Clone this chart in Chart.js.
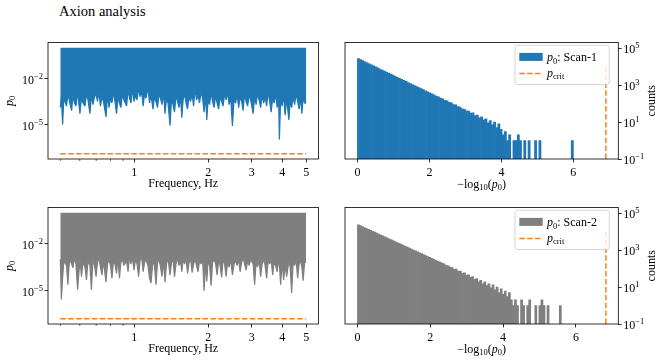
<!DOCTYPE html>
<html>
<head>
<meta charset="utf-8">
<title>Axion analysis</title>
<script src="https://cdn.jsdelivr.net/npm/chart.js@4.4.1/dist/chart.umd.min.js"></script>
<style>
	html, body { margin: 0; padding: 0; background: #fff; }
	#fig { position: relative; width: 664px; height: 362px; overflow: hidden; }
	#fig canvas { position: absolute; }
	#title { position: absolute; left: 59px; top: 4px; font: 14.5px/14px 'Liberation Serif', serif; color: #000; }
</style>
</head>
<body>
<div id="fig">
	<div id="title">Axion analysis</div>
	<canvas id="freq1" width="332" height="167" style="left:0;top:30px"></canvas>
	<canvas id="hist1" width="332" height="167" style="left:332px;top:30px"></canvas>
	<canvas id="freq2" width="332" height="167" style="left:0;top:195px"></canvas>
	<canvas id="hist2" width="332" height="167" style="left:332px;top:195px"></canvas>
</div>
<script>

// frequency grid of the scans (Hz)
const freqHz = [
	0.500, 0.505, 0.511, 0.517, 0.530, 0.537, 0.545, 0.556, 0.563, 0.571,
	0.579, 0.588, 0.601, 0.610, 0.618, 0.630, 0.639, 0.648, 0.660, 0.669,
	0.679, 0.689, 0.699, 0.708, 0.718, 0.728, 0.739, 0.749, 0.767, 0.778,
	0.789, 0.800, 0.811, 0.823, 0.834, 0.847, 0.858, 0.870, 0.882, 0.895,
	0.907, 0.930, 0.943, 0.957, 0.969, 0.983, 0.997, 1.011, 1.026, 1.041,
	1.055, 1.070, 1.086, 1.101, 1.115, 1.136, 1.153, 1.169, 1.191, 1.208,
	1.225, 1.243, 1.260, 1.278, 1.296, 1.314, 1.333, 1.352, 1.371, 1.397,
	1.417, 1.437, 1.457, 1.478, 1.499, 1.520, 1.542, 1.560, 1.579, 1.601,
	1.623, 1.646, 1.669, 1.694, 1.718, 1.742, 1.766, 1.791, 1.816, 1.842,
	1.868, 1.895, 1.922, 1.949, 1.971, 1.995, 2.024, 2.052, 2.081, 2.111,
	2.141, 2.171, 2.202, 2.233, 2.265, 2.296, 2.329, 2.362, 2.395, 2.429,
	2.464, 2.506, 2.546, 2.582, 2.619, 2.656, 2.693, 2.731, 2.769, 2.809,
	2.849, 2.889, 2.930, 2.972, 3.042, 3.085, 3.128, 3.172, 3.217, 3.263,
	3.310, 3.357, 3.404, 3.452, 3.501, 3.551, 3.601, 3.652, 3.703, 3.756,
	3.809, 3.863, 3.890, 3.935, 3.991, 4.048, 4.105, 4.163, 4.252, 4.302,
	4.363, 4.424, 4.487, 4.550, 4.615, 4.680, 4.746, 4.800, 4.858, 4.928,
	5.000
];

// log10(p0), lower envelope of each scan
const scan1LogP0 = [
	-3.9, -3.2, -5.0, -3.3, -3.8, -3.0, -3.5, -4.1, -3.1, -3.6,
	-3.8, -2.9, -4.3, -3.2, -3.6, -3.8, -3.0, -3.4, -4.3, -3.1,
	-3.7, -3.2, -3.0, -3.5, -2.9, -3.8, -3.2, -3.5, -4.5, -3.1,
	-3.9, -3.3, -3.6, -2.9, -3.5, -4.3, -3.2, -3.6, -3.9, -3.0,
	-3.4, -3.8, -2.8, -3.3, -3.6, -2.7, -3.5, -3.1, -3.4, -2.6,
	-3.2, -2.8, -3.8, -3.0, -3.3, -2.6, -3.6, -3.1, -4.0, -3.2,
	-3.5, -3.9, -3.0, -3.3, -3.7, -2.9, -4.3, -3.3, -3.6, -5.07,
	-3.4, -3.7, -4.2, -3.1, -3.5, -3.9, -3.2, -4.56, -3.4, -3.0,
	-3.6, -4.0, -3.2, -3.5, -3.0, -3.8, -2.7, -3.4, -3.1, -3.6,
	-2.9, -3.3, -4.2, -3.1, -4.7, -3.4, -3.7, -2.9, -3.5, -3.9,
	-3.1, -3.6, -4.0, -3.2, -3.5, -3.8, -3.0, -3.4, -2.9, -3.7,
	-3.2, -5.1, -3.3, -3.6, -3.0, -3.9, -3.2, -3.5, -4.1, -3.0,
	-3.5, -3.8, -3.1, -3.4, -4.3, -3.2, -3.7, -3.0, -3.4, -3.9,
	-3.1, -3.6, -3.2, -3.8, -2.9, -3.5, -4.2, -3.3, -3.6, -3.0,
	-3.9, -3.3, -5.98, -3.4, -3.8, -3.1, -4.4, -3.3, -4.7, -3.5,
	-3.9, -3.2, -3.7, -3.0, -3.5, -4.0, -3.2, -4.3, -3.3, -3.6,
	-3.6
];

const scan2LogP0 = [
	-3.0, -5.59, -4.2, -3.1, -3.4, -4.64, -3.0, -3.3, -3.54, -2.9,
	-3.3, -4.96, -3.0, -4.11, -3.2, -3.5, -4.32, -3.1, -3.4, -4.96,
	-3.0, -3.4, -4.11, -3.2, -2.9, -3.5, -4.0, -3.1, -4.47, -3.3,
	-3.0, -3.4, -4.22, -3.1, -3.3, -3.9, -2.9, -4.22, -3.2, -3.0,
	-3.4, -3.1, -3.8, -2.8, -3.3, -2.9, -3.69, -3.0, -3.3, -4.11,
	-3.1, -2.8, -3.8, -3.2, -3.0, -3.4, -4.22, -4.53, -3.1, -3.4,
	-4.64, -3.2, -3.0, -3.5, -4.11, -3.1, -4.47, -3.3, -2.9, -4.0,
	-3.2, -3.0, -4.11, -3.3, -2.9, -3.4, -3.1, -3.8, -3.0, -3.3,
	-2.9, -3.9, -3.2, -3.0, -3.85, -3.3, -3.0, -3.4, -3.8, -3.1,
	-3.3, -3.0, -5.02, -3.2, -4.43, -3.1, -3.4, -4.7, -3.2, -3.0,
	-3.3, -4.0, -3.1, -3.4, -4.17, -3.0, -3.3, -4.11, -3.2, -3.5,
	-3.0, -4.0, -3.3, -3.1, -3.4, -3.0, -3.8, -3.2, -2.9, -3.3,
	-3.69, -3.1, -3.4, -3.0, -3.3, -4.64, -3.2, -3.5, -3.0, -4.11,
	-3.3, -3.0, -3.4, -4.22, -3.1, -3.3, -3.0, -4.0, -3.2, -3.4,
	-3.8, -3.1, -3.3, -4.64, -3.2, -4.32, -3.4, -4.11, -3.1, -3.5,
	-5.16, -3.2, -3.4, -3.0, -4.22, -3.3, -3.1, -3.5, -4.37, -3.2,
	-3.16
];

// critical p-value of each scan
const pCrit1 = 1.25e-7;
const pCrit2 = 1.5e-7;

// histograms of -log10(p0): 100 equal bins from 0 to the max
const hist1Max = 6.0;
const hist1Counts = [
	26900, 23640, 20780, 18260, 16050, 14110, 12400, 10900, 9580, 8420,
	7400, 6500, 5720, 5020, 4420, 3880, 3410, 3000, 2640, 2320,
	2040, 1790, 1570, 1380, 1215, 1068, 939, 825, 725, 637,
	560, 492, 433, 380, 334, 296, 255, 231, 196, 178,
	150, 139, 115, 108, 88, 84, 68, 64, 52, 49,
	40, 39, 30, 31, 22, 24, 17, 19, 13, 15,
	9, 12, 7, 10, 5, 8, 4, 2, 3, 1,
	2, 0, 1, 1, 2, 1, 0, 1, 0, 1,
	0, 0, 1, 0, 1, 0, 0, 0, 0, 0,
	0, 0, 0, 0, 0, 0, 0, 0, 0, 1
];

const hist2Max = 5.6;
const hist2Counts = [
	23440, 20860, 18570, 16520, 14710, 13090, 11650, 10370, 9230, 8210,
	7310, 6510, 5790, 5150, 4590, 4080, 3630, 3230, 2880, 2560,
	2280, 2030, 1810, 1610, 1430, 1270, 1130, 1010, 899, 800,
	712, 634, 564, 502, 447, 398, 354, 315, 280, 249,
	222, 196, 180, 150, 142, 118, 114, 90, 92, 71,
	72, 55, 58, 44, 46, 33, 37, 26, 29, 19,
	23, 15, 19, 12, 15, 9, 13, 7, 10, 5,
	8, 4, 6, 3, 5, 2, 1, 2, 1, 0,
	2, 1, 0, 1, 2, 0, 0, 1, 0, 1,
	2, 1, 0, 1, 0, 0, 0, 0, 0, 1
];

const critLineTop = 1e4;
const countsMax = 2e5;

const freqTicks = [ 1, 2, 3, 4, 5 ];
const freqMinorTicks = [ 0.5, 0.6, 0.7, 0.8, 0.9 ];
const p0Ticks = [ 1e-5, 1e-2 ];
const histTicks = [ 0, 2, 4, 6 ];
const countTicks = [ 1e-1, 1e1, 1e3, 1e5 ];

const FONT = "'Liberation Serif', 'DejaVu Serif', serif";
const BLUE = '#1f77b4';
const GRAY = '#7f7f7f';
const ORANGE = '#ff7f0e';
const DASH = [ 5.5, 2.4 ];

Chart.defaults.font.family = FONT;
Chart.defaults.font.size = 12;
Chart.defaults.color = '#000';

const expLabel = v => {
	const e = Math.round( Math.log10( v ) );
	return ( e < 0 ? '\u2212' : '' ) + Math.abs( e );
};

// text with italic / sub / sup runs, y is the baseline
function drawRuns( ctx, runs, x, y, align ) {
	const font = s => ( s === 'i' ? 'italic ' : '' ) + ( s === 'sub' || s === 'sup' ? 8.5 : 12 ) + 'px ' + FONT;
	let w = 0;
	runs.forEach( ( [ t, s ] ) => { ctx.font = font( s ); w += ctx.measureText( t ).width; } );
	let cx = align === 'center' ? x - w / 2 : align === 'right' ? x - w : x;
	ctx.textAlign = 'left';
	ctx.textBaseline = 'alphabetic';
	runs.forEach( ( [ t, s ] ) => {
		ctx.font = font( s );
		ctx.fillText( t, cx, y + ( s === 'sub' ? 2.7 : s === 'sup' ? -5 : 0 ) );
		cx += ctx.measureText( t ).width;
	} );
}

function drawFrame( ctx, a ) {
	ctx.strokeStyle = '#000';
	ctx.lineWidth = 0.8;
	ctx.strokeRect( a.left, a.top, a.right - a.left, a.bottom - a.top );
}

const lineDeco = {
	id: 'lineDeco',
	afterDraw( chart ) {
		const { ctx, chartArea: a, scales: { x, y } } = chart;
		ctx.save();
		drawFrame( ctx, a );
		ctx.lineWidth = 0.6;
		ctx.beginPath();
		freqMinorTicks.forEach( v => {
			const px = x.getPixelForValue( v );
			ctx.moveTo( px, a.bottom );
			ctx.lineTo( px, a.bottom + 2 );
		} );
		ctx.stroke();
		ctx.fillStyle = '#000';
		p0Ticks.forEach( v => drawRuns( ctx, [ [ '10', '' ], [ expLabel( v ), 'sup' ] ], a.left - 5, y.getPixelForValue( v ) + 5.2, 'right' ) );
		ctx.translate( 12.5, ( a.top + a.bottom ) / 2 );
		ctx.rotate( -Math.PI / 2 );
		drawRuns( ctx, [ [ 'p', 'i' ], [ '0', 'sub' ] ], 0, 0, 'center' );
		ctx.restore();
	}
};

const histDeco = ( label, color ) => ( {
	id: 'histDeco',
	afterDraw( chart ) {
		const { ctx, chartArea: a, scales: { y } } = chart;
		ctx.save();
		drawFrame( ctx, a );
		ctx.fillStyle = '#000';
		countTicks.forEach( v => drawRuns( ctx, [ [ '10', '' ], [ expLabel( v ), 'sup' ] ], a.right + 5, y.getPixelForValue( v ) + 5.2, 'left' ) );
		drawRuns( ctx, [ [ '\u2212log', '' ], [ '10', 'sub' ], [ '(', '' ], [ 'p', 'i' ], [ '0', 'sub' ], [ ')', '' ] ], ( a.left + a.right ) / 2, 157.5, 'center' );

		ctx.save();
		ctx.translate( 322.5, ( a.top + a.bottom ) / 2 );
		ctx.rotate( -Math.PI / 2 );
		drawRuns( ctx, [ [ 'counts', '' ] ], 0, 0, 'center' );
		ctx.restore();

		// legend, upper right
		const bw = 94.3, bh = 39.3;
		const bx = a.right - 9 - bw, by = a.top + 2.7;
		ctx.beginPath();
		ctx.roundRect( bx, by, bw, bh, 2.5 );
		ctx.fillStyle = 'rgba(255,255,255,0.8)';
		ctx.fill();
		ctx.strokeStyle = '#cccccc';
		ctx.lineWidth = 0.8;
		ctx.stroke();
		ctx.fillStyle = color;
		ctx.fillRect( bx + 4.3, by + 7.7, 23.4, 8 );
		ctx.strokeStyle = ORANGE;
		ctx.lineWidth = 1.5;
		ctx.setLineDash( DASH );
		ctx.beginPath();
		ctx.moveTo( bx + 4.3, by + 28.3 );
		ctx.lineTo( bx + 27.7, by + 28.3 );
		ctx.stroke();
		ctx.setLineDash( [] );
		ctx.fillStyle = '#000';
		drawRuns( ctx, [ [ 'p', 'i' ], [ '0', 'sub' ], [ ': ' + label, '' ] ], bx + 32, by + 15.8, 'left' );
		drawRuns( ctx, [ [ 'p', 'i' ], [ 'crit', 'sub' ] ], bx + 32, by + 31.5, 'left' );
		ctx.restore();
	}
} );

const tickGrid = { display: true, drawOnChartArea: false, tickLength: 3.5, color: '#000', tickWidth: 0.8 };

function freqChart( id, logP0, color, pCrit ) {
	// matplotlib style 5% margins in log space
	const span = -Math.log10( pCrit );
	return new Chart( document.getElementById( id ), {
		type: 'line',
		data: {
			datasets: [ {
				data: freqHz.map( ( f, i ) => ( { x: f, y: 10 ** logP0[i] } ) ),
				borderColor: color,
				backgroundColor: color,
				borderWidth: 1.2,
				borderJoinStyle: 'bevel',
				pointRadius: 0,
				tension: 0,
				fill: { value: 1 }
			}, {
				data: [ { x: freqHz[0], y: pCrit }, { x: freqHz[freqHz.length - 1], y: pCrit } ],
				borderColor: ORANGE,
				borderWidth: 1.5,
				borderDash: DASH,
				pointRadius: 0,
				fill: false
			} ]
		},
		options: {
			responsive: false,
			animation: false,
			layout: { padding: { left: 0, top: 12.5, right: 13.5, bottom: 0 } },
			plugins: { legend: { display: false }, tooltip: { enabled: false } },
			scales: {
				x: {
					type: 'logarithmic',
					min: 10 ** -0.351,
					max: 10 ** 0.749,
					afterBuildTicks: s => { s.ticks = freqTicks.map( v => ( { value: v } ) ); },
					afterFit: s => { s.height = 38; },
					ticks: { callback: v => String( v ), padding: 3, maxRotation: 0, autoSkip: false, font: { size: 12 } },
					grid: tickGrid,
					border: { display: false },
					title: { display: true, text: 'Frequency, Hz', font: { size: 12 }, padding: { top: 0, bottom: 5.8 } }
				},
				y: {
					type: 'logarithmic',
					min: pCrit * 10 ** ( -0.05 * span ),
					max: 10 ** ( 0.05 * span ),
					afterBuildTicks: s => { s.ticks = p0Ticks.map( v => ( { value: v } ) ); },
					afterFit: s => { s.width = 48; },
					ticks: { callback: () => '' },
					grid: tickGrid,
					border: { display: false }
				}
			}
		},
		plugins: [ lineDeco ]
	} );
}

function histChart( id, counts, hMax, color, pCrit, label ) {
	const n = counts.length;
	const xc = -Math.log10( pCrit );
	return new Chart( document.getElementById( id ), {
		type: 'bar',
		data: {
			datasets: [ {
				type: 'bar',
				data: counts.map( ( c, i ) => ( { x: hMax * ( i + 0.5 ) / n, y: c || null } ) ),
				backgroundColor: color,
				borderWidth: 0,
				barPercentage: 1,
				categoryPercentage: 1
			}, {
				type: 'line',
				data: [ { x: xc, y: countTicks[0] }, { x: xc, y: critLineTop } ],
				borderColor: ORANGE,
				borderWidth: 1.5,
				borderDash: DASH,
				pointRadius: 0,
				fill: false
			} ]
		},
		options: {
			responsive: false,
			animation: false,
			layout: { padding: { left: 13, top: 12.5, right: 0, bottom: 0 } },
			plugins: { legend: { display: false }, tooltip: { enabled: false } },
			scales: {
				x: {
					type: 'linear',
					offset: false,
					min: -0.05 * xc,
					max: 1.05 * xc,
					afterBuildTicks: s => { s.ticks = histTicks.map( v => ( { value: v } ) ); },
					afterFit: s => { s.height = 38; },
					ticks: { callback: v => String( v ), padding: 3, maxRotation: 0, autoSkip: false, font: { size: 12 } },
					grid: Object.assign( { offset: false }, tickGrid ),
					border: { display: false }
				},
				y: {
					type: 'logarithmic',
					position: 'right',
					min: countTicks[0],
					max: countsMax,
					afterBuildTicks: s => { s.ticks = countTicks.map( v => ( { value: v } ) ); },
					afterFit: s => { s.width = 45.7; },
					ticks: { callback: () => '' },
					grid: tickGrid,
					border: { display: false }
				}
			}
		},
		plugins: [ histDeco( label, color ) ]
	} );
}

freqChart( 'freq1', scan1LogP0, BLUE, pCrit1 );
histChart( 'hist1', hist1Counts, hist1Max, BLUE, pCrit1, 'Scan-1' );
freqChart( 'freq2', scan2LogP0, GRAY, pCrit2 );
histChart( 'hist2', hist2Counts, hist2Max, GRAY, pCrit2, 'Scan-2' );

</script>
</body>
</html>
